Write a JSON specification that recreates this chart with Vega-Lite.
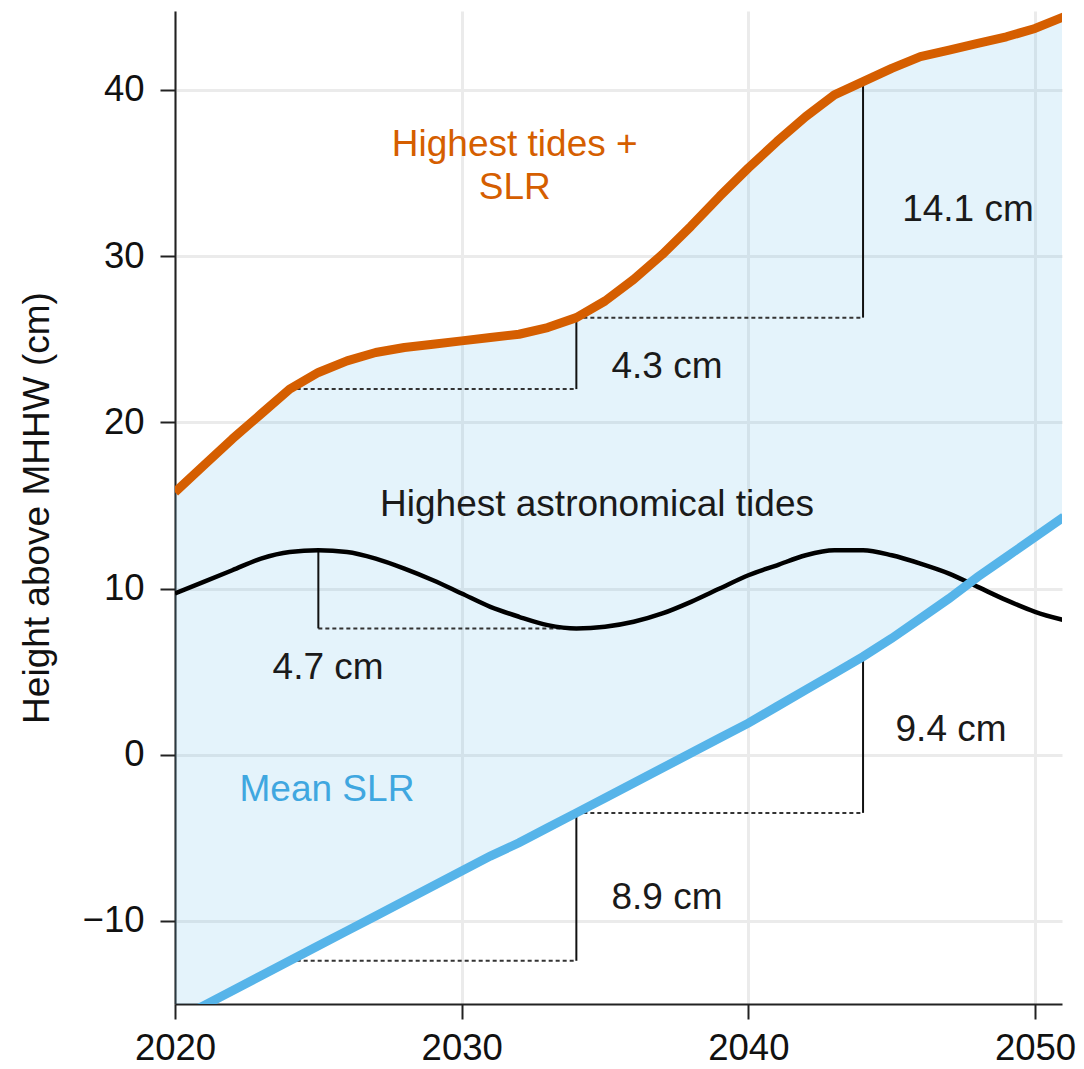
{
  "$schema": "https://vega.github.io/schema/vega-lite/v6.json",
  "width": 887,
  "height": 993,
  "autosize": {"type": "none"},
  "padding": {"left": 175, "top": 11, "right": 22, "bottom": 65},
  "background": "white",
  "config": {
    "view": {"stroke": null},
    "font": "Liberation Sans",
    "axis": {
      "domainColor": "#222222",
      "domainWidth": 2,
      "tickColor": "#222222",
      "tickWidth": 2,
      "tickSize": 15,
      "gridColor": "#EBEBEB",
      "gridWidth": 3,
      "labelFont": "Liberation Sans",
      "labelFontSize": 36.5,
      "labelColor": "#111111",
      "labelFlush": false,
      "labelOverlap": false,
      "titleFont": "Liberation Sans",
      "titleFontSize": 37,
      "titleFontWeight": "normal",
      "titleColor": "#111111"
    }
  },
  "datasets": {
    "series": [
      {"year": 2020, "high": 15.8, "tide": 9.7, "slr": -16.0},
      {"year": 2021, "high": 17.4, "tide": 10.4, "slr": -15.1},
      {"year": 2022, "high": 19.0, "tide": 11.1, "slr": -14.2},
      {"year": 2023, "high": 20.5, "tide": 11.8, "slr": -13.3},
      {"year": 2024, "high": 22.0, "tide": 12.2, "slr": -12.4},
      {"year": 2025, "high": 23.0, "tide": 12.3, "slr": -11.5},
      {"year": 2026, "high": 23.7, "tide": 12.2, "slr": -10.6},
      {"year": 2027, "high": 24.2, "tide": 11.8, "slr": -9.7},
      {"year": 2028, "high": 24.5, "tide": 11.2, "slr": -8.8},
      {"year": 2029, "high": 24.7, "tide": 10.5, "slr": -7.9},
      {"year": 2030, "high": 24.9, "tide": 9.7, "slr": -7.0},
      {"year": 2031, "high": 25.1, "tide": 8.9, "slr": -6.1},
      {"year": 2032, "high": 25.3, "tide": 8.3, "slr": -5.3},
      {"year": 2033, "high": 25.7, "tide": 7.8, "slr": -4.4},
      {"year": 2034, "high": 26.3, "tide": 7.6, "slr": -3.5},
      {"year": 2035, "high": 27.3, "tide": 7.7, "slr": -2.6},
      {"year": 2036, "high": 28.6, "tide": 8.0, "slr": -1.7},
      {"year": 2037, "high": 30.1, "tide": 8.5, "slr": -0.8},
      {"year": 2038, "high": 31.8, "tide": 9.2, "slr": 0.1},
      {"year": 2039, "high": 33.6, "tide": 10.0, "slr": 1.0},
      {"year": 2040, "high": 35.3, "tide": 10.8, "slr": 1.9},
      {"year": 2041, "high": 36.9, "tide": 11.4, "slr": 2.9},
      {"year": 2042, "high": 38.4, "tide": 12.0, "slr": 3.9},
      {"year": 2043, "high": 39.7, "tide": 12.3, "slr": 4.9},
      {"year": 2044, "high": 40.5, "tide": 12.3, "slr": 5.9},
      {"year": 2045, "high": 41.3, "tide": 12.0, "slr": 7.0},
      {"year": 2046, "high": 42.0, "tide": 11.5, "slr": 8.2},
      {"year": 2047, "high": 42.4, "tide": 10.9, "slr": 9.4},
      {"year": 2048, "high": 42.8, "tide": 10.1, "slr": 10.7},
      {"year": 2049, "high": 43.2, "tide": 9.3, "slr": 11.9},
      {"year": 2050, "high": 43.7, "tide": 8.6, "slr": 13.1},
      {"year": 2051, "high": 44.4, "tide": 8.1, "slr": 14.3}
    ],
    "runs": [
      {"from": 2024, "to": 2034, "level": 22.0},
      {"from": 2034, "to": 2044, "level": 26.3},
      {"from": 2025, "to": 2034.4, "level": 7.6},
      {"from": 2024, "to": 2034, "level": -12.4},
      {"from": 2034, "to": 2044, "level": -3.5}
    ],
    "risers": [
      {"year": 2034, "low": 22.0, "top": 26.3},
      {"year": 2044, "low": 26.3, "top": 40.5},
      {"year": 2025, "low": 7.6, "top": 12.3},
      {"year": 2034, "low": -12.4, "top": -3.5},
      {"year": 2044, "low": -3.5, "top": 5.9}
    ],
    "labels": [
      {"year": 2031.85, "value": 36.7, "label": "Highest tides +", "kind": "high"},
      {"year": 2031.85, "value": 34.1, "label": "SLR", "kind": "high"},
      {"year": 2034.72, "value": 15.0, "label": "Highest astronomical tides", "kind": "tide"},
      {"year": 2025.3, "value": -2.1, "label": "Mean SLR", "kind": "slr"},
      {"year": 2047.66, "value": 32.8, "label": "14.1 cm", "kind": "note"},
      {"year": 2037.16, "value": 23.3, "label": "4.3 cm", "kind": "note"},
      {"year": 2025.34, "value": 5.2, "label": "4.7 cm", "kind": "note"},
      {"year": 2047.07, "value": 1.5, "label": "9.4 cm", "kind": "note"},
      {"year": 2037.16, "value": -8.6, "label": "8.9 cm", "kind": "note"}
    ]
  },
  "layer": [
    {
      "data": {"name": "series"},
      "mark": {"type": "area", "clip": true, "color": "#56B4E9", "opacity": 0.16},
      "encoding": {
        "x": {
          "field": "year",
          "type": "quantitative",
          "scale": {"domain": [2020, 2050.94], "nice": false, "zero": false},
          "axis": {"values": [2020, 2030, 2040, 2050], "format": "d", "title": null, "labelPadding": 11}
        },
        "y": {
          "field": "slr",
          "type": "quantitative",
          "scale": {"domain": [-15, 44.75], "nice": false, "zero": false},
          "axis": {"values": [-10, 0, 10, 20, 30, 40], "title": "Height above MHHW (cm)", "labelPadding": 16, "titlePadding": 26}
        },
        "y2": {"field": "high"}
      }
    },
    {
      "data": {"name": "runs"},
      "mark": {"type": "rule", "clip": true, "color": "#333333", "strokeWidth": 2, "strokeDash": [4, 3]},
      "encoding": {
        "x": {"field": "from", "type": "quantitative"},
        "x2": {"field": "to"},
        "y": {"field": "level", "type": "quantitative"}
      }
    },
    {
      "data": {"name": "risers"},
      "mark": {"type": "rule", "clip": true, "color": "#111111", "strokeWidth": 2},
      "encoding": {
        "x": {"field": "year", "type": "quantitative"},
        "y": {"field": "low", "type": "quantitative"},
        "y2": {"field": "top"}
      }
    },
    {
      "data": {"name": "series"},
      "mark": {"type": "line", "clip": true, "color": "#D55E00", "strokeWidth": 9, "strokeCap": "butt", "strokeJoin": "round"},
      "encoding": {
        "x": {"field": "year", "type": "quantitative"},
        "y": {"field": "high", "type": "quantitative"}
      }
    },
    {
      "data": {"name": "series"},
      "mark": {"type": "line", "clip": true, "color": "#000000", "strokeWidth": 4.5, "interpolate": "monotone"},
      "encoding": {
        "x": {"field": "year", "type": "quantitative"},
        "y": {"field": "tide", "type": "quantitative"}
      }
    },
    {
      "data": {"name": "series"},
      "mark": {"type": "line", "clip": true, "color": "#56B4E9", "strokeWidth": 9, "strokeCap": "butt"},
      "encoding": {
        "x": {"field": "year", "type": "quantitative"},
        "y": {"field": "slr", "type": "quantitative"}
      }
    },
    {
      "data": {"name": "labels"},
      "mark": {"type": "text", "fontSize": 37, "font": "Liberation Sans", "align": "center", "baseline": "middle"},
      "encoding": {
        "x": {"field": "year", "type": "quantitative"},
        "y": {"field": "value", "type": "quantitative"},
        "text": {"field": "label"},
        "color": {
          "field": "kind",
          "type": "nominal",
          "scale": {"domain": ["high", "tide", "slr", "note"], "range": ["#D55E00", "#1a1a1a", "#3FA7E0", "#1a1a1a"]},
          "legend": null
        }
      }
    }
  ]
}
